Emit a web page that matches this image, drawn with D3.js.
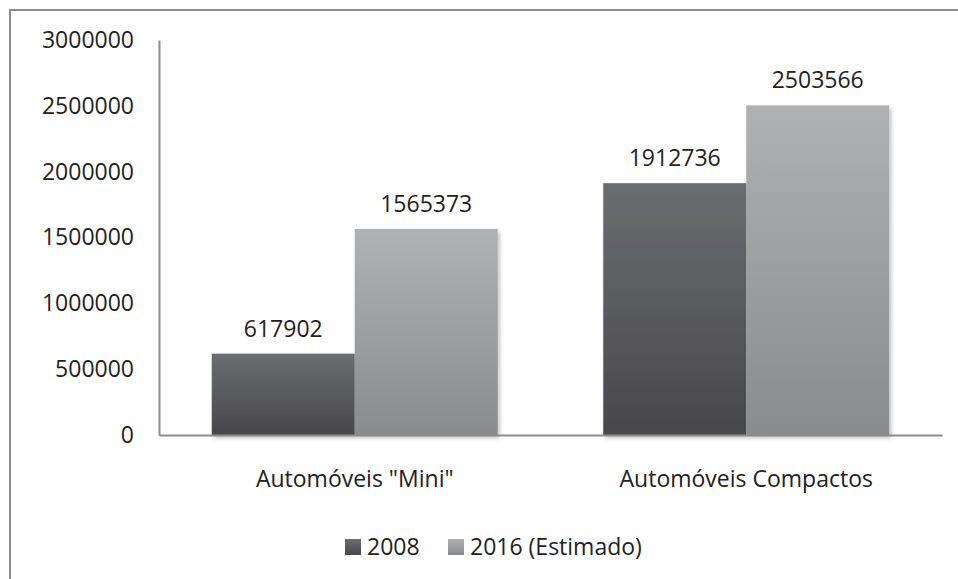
<!DOCTYPE html>
<html>
<head>
<meta charset="utf-8">
<script src="https://cdn.jsdelivr.net/npm/d3@7"></script>
<style>
  body { margin: 0; background: #fff; }
  text { font-family: "Open Sans", "Noto Sans", sans-serif; fill: #222; }
</style>
</head>
<body>
<svg width="958" height="579"></svg>
<script>
// data
var categories = ["Automóveis \"Mini\"", "Automóveis Compactos"];
var seriesNames = ["2008", "2016 (Estimado)"];
var values2008 = [617902, 1912736];
var values2016 = [1565373, 2503566];
var yTicks = [0, 500000, 1000000, 1500000, 2000000, 2500000, 3000000];

var svg = d3.select("svg");
var fontSize = "23px";

// outer frame (right/bottom edges fall outside the picture)
svg.append("rect")
  .attr("x", 10).attr("y", 10).attr("width", 1000).attr("height", 1000)
  .style("fill", "none").style("stroke", "#8c8c8c").style("stroke-width", 2);

var plotLeft = 159, plotRight = 942, plotTop = 40, plotBottom = 435;

var xScale = d3.scaleBand().domain(categories).range([plotLeft, plotRight]).paddingInner(0).paddingOuter(0);
var inner = d3.scaleBand().domain(seriesNames).range([0, xScale.bandwidth()]).paddingOuter(0.369);
var yScale = d3.scaleLinear().domain([0, 3000000]).range([plotBottom, plotTop]);

var defs = svg.append("defs");
var g1 = defs.append("linearGradient").attr("id", "gDark").attr("x1", 0).attr("y1", 0).attr("x2", 0).attr("y2", 1);
g1.append("stop").attr("offset", "0%").attr("stop-color", "#6b6d70");
g1.append("stop").attr("offset", "100%").attr("stop-color", "#48484b");
var g2 = defs.append("linearGradient").attr("id", "gLight").attr("x1", 0).attr("y1", 0).attr("x2", 0).attr("y2", 1);
g2.append("stop").attr("offset", "0%").attr("stop-color", "#afb1b3");
g2.append("stop").attr("offset", "100%").attr("stop-color", "#898b8d");
var f = defs.append("filter").attr("id", "shadow").attr("x", "-10%").attr("y", "-10%").attr("width", "130%").attr("height", "130%");
f.append("feDropShadow").attr("dx", 2).attr("dy", 3).attr("stdDeviation", 2).attr("flood-color", "#000").attr("flood-opacity", 0.25);

var fills = ["url(#gDark)", "url(#gLight)"];
var rows = [];
categories.forEach(function(c, i) {
  rows.push({ cat: c, s: seriesNames[0], v: values2008[i], k: 0 });
  rows.push({ cat: c, s: seriesNames[1], v: values2016[i], k: 1 });
});

// y axis
var yAxis = d3.axisLeft(yScale).tickValues(yTicks).tickSize(0).tickPadding(25).tickFormat(d3.format("d"));
var ya = svg.append("g").attr("transform", "translate(" + plotLeft + ",0)").call(yAxis);
ya.select(".domain").style("stroke", "#8c8c8c").style("stroke-width", 2);
ya.selectAll("text").style("font-size", fontSize).style("font-family", "\"Open Sans\", sans-serif").style("fill", "#222");

// bars
svg.append("g").selectAll("rect").data(rows).enter()
  .append("rect")
  .attr("x", d => xScale(d.cat) + inner(d.s))
  .attr("y", d => yScale(d.v))
  .attr("width", inner.bandwidth())
  .attr("height", d => plotBottom - yScale(d.v))
  .attr("filter", "url(#shadow)")
  .style("fill", d => fills[d.k]);

// x axis
var xAxis = d3.axisBottom(xScale).tickSize(0).tickPadding(36);
var xa = svg.append("g").attr("transform", "translate(0," + plotBottom + ")").call(xAxis);
xa.select(".domain").style("stroke", "#8c8c8c").style("stroke-width", 2);
xa.selectAll("text").style("font-size", fontSize).style("font-family", "\"Open Sans\", sans-serif").style("fill", "#222");

// value labels
svg.append("g").selectAll("text").data(rows).enter()
  .append("text")
  .attr("x", d => xScale(d.cat) + inner(d.s) + inner.bandwidth() / 2)
  .attr("y", d => yScale(d.v) - 17)
  .attr("text-anchor", "middle")
  .style("font-size", fontSize)
  .text(d => d.v);

// legend
var legX = [345, 448];
var leg = svg.append("g").selectAll("g").data(seriesNames).enter().append("g")
  .attr("transform", (d, i) => "translate(" + legX[i] + ",539)");
leg.append("rect").attr("width", 16).attr("height", 16).style("fill", (d, i) => fills[i]);
leg.append("text").attr("x", 22).attr("y", 16).style("font-size", fontSize).text(d => d);
</script>
</body>
</html>
